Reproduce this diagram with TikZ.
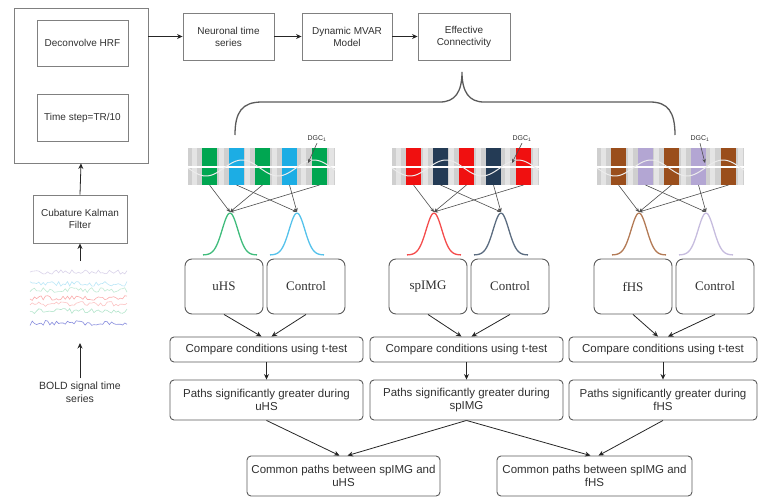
\documentclass[tikz,border=0pt]{standalone}
\usepackage{fontspec}
\setmainfont{Liberation Serif}
\setsansfont{Liberation Sans}
\usepackage{tikz}
\usetikzlibrary{positioning,arrows.meta,calc}
\definecolor{bGray}{HTML}{808080}
\definecolor{bText}{HTML}{303030}
\definecolor{sGray}{HTML}{CFCFCF}
\definecolor{cGreen}{HTML}{00A651}
\definecolor{cBlue}{HTML}{1CADE4}
\definecolor{cRed}{HTML}{F01010}
\definecolor{cNavy}{HTML}{243B55}
\definecolor{cBrown}{HTML}{9A4E1C}
\definecolor{cLav}{HTML}{B3A6D3}
% one effective connectivity panel: strip, densities, condition boxes
\newcommand{\ecpanel}[7]{%
 \fill[sGray] (#1,148) rectangle ++(147,37);
 \foreach \o in {4,31,57,84,113,141} \fill[white,opacity=.45] (#1+\o,148) rectangle ++(5,37);
 \foreach \o/\c [count=\i] in {14/#3,41/#4,67/#3,94/#4,124/#3} {
  \fill[\c] (#1+\o,148) rectangle ++(15,37);
  \coordinate (#2b\i) at (#1+\o+7.5,185);
 }
 \draw[white, line width=1.1pt] (#1,167) -- ++(147,0);
 \draw[white!85!gray, line width=1pt] plot[domain=0:147, samples=60, smooth] ({#1+\x},{168+8*sin(\x*5)});
 \coordinate (#2pa) at (#1+42,212);
 \coordinate (#2pb) at (#1+109,212);
 \draw[#3!75, line width=1.3pt] plot[domain=-27:27, samples=40, smooth] ({#1+42+\x},{255-42*exp(-((\x/11)^2))});
 \draw[#4!75, line width=1.3pt] plot[domain=-27:27, samples=40, smooth] ({#1+109+\x},{255-42*exp(-((\x/11)^2))});
 \foreach \s/\t in {b1/pa,b3/pa,b5/pa,b2/pb,b4/pb} \draw[thin arr] (#2\s) -- (#2\t);
 \node[font=\sffamily\fontsize{7}{8}\selectfont, text=bText, inner sep=1pt] (#2dgc) at (#1+#6,139) {DGC\textsubscript{1}};
 \coordinate (#2tip) at (#1+#7,163);
 \draw[thin arr] (#2dgc.south) -- (#2tip);
 \node[cond] (#2c) at (#1+36,286.5) {#5};
 \node[cond] (#2k) at (#1+118,286.5) {Control};
}
\begin{document}
\begin{tikzpicture}[x=1pt,y=-1pt,
 flow/.style={draw=bGray, line width=0.9pt, font=\sffamily\fontsize{10}{12}\selectfont, text=bText, align=center, inner sep=1pt},
 cond/.style={draw=bGray!70!black, line width=0.9pt, rounded corners=7pt, font=\fontsize{13}{15}\selectfont, text=bText, minimum width=78pt, minimum height=55pt},
 test/.style={draw=bGray!70!black, line width=0.9pt, rounded corners=4pt, font=\sffamily\fontsize{11.5}{13.5}\selectfont, text=bText, align=center, inner sep=1pt},
 arr/.style={-{Stealth[length=5.5pt,width=5pt]}, line width=0.8pt, draw=black!85},
 thin arr/.style={-{Stealth[length=4pt,width=3.5pt]}, line width=0.6pt, draw=black!70},
]
\useasboundingbox (0,0) rectangle (758,498);
% preprocessing
\node[flow, minimum width=134pt, minimum height=155pt] (outer) at (81,85.5) {};
\node[flow, minimum width=91pt, minimum height=46pt] (deconv) at (82.5,43) {Deconvolve HRF};
\node[flow, minimum width=91pt, minimum height=47pt] (tstep) at (82.5,118) {Time step=TR/10};
\node[flow, minimum width=94pt, minimum height=48pt] (kalman) at (80,219) {Cubature Kalman\\Filter};
\node[font=\sffamily\fontsize{10.5}{12.5}\selectfont, text=bText, align=center] (boldts) at (80,392) {BOLD signal time\\series};
\coordinate (sigtop) at (80,261);
\coordinate (sigbot) at (80,343);
\pgfmathsetseed{11}
\foreach \yy/\cc in {272/cLav, 284/cBlue!60, 290/cGreen!50, 298/cRed!70, 304/cRed!50, 311/cGreen!60, 323/cNavy!40!blue} \draw[\cc, opacity=.5, line width=0.6pt] plot[domain=30:127, samples=45] (\x,{\yy+2.5*rand});
\draw[arr] (boldts.north) -- (sigbot);
\draw[arr] (sigtop) -- (kalman.south);
\draw[arr] (kalman.north) -- (outer.south);
% model chain
\node[flow, minimum width=91pt, minimum height=47pt] (neur) at (228.5,36.5) {Neuronal time\\series};
\node[flow, minimum width=90pt, minimum height=47pt] (dyn) at (347,36.5) {Dynamic MVAR\\Model};
\node[flow, minimum width=92pt, minimum height=47pt] (effc) at (464,36.5) {Effective\\Connectivity};
\draw[arr] (outer.east |- neur.west) -- (neur.west);
\draw[arr] (neur) -- (dyn);
\draw[arr] (dyn) -- (effc);
\coordinate (brtip) at (462,72);
\draw[bGray!70!black, line width=1.3pt] (235,135) .. controls (235,112) and (242,102) .. (262,102) -- (440,102) .. controls (455,102) and (462,92) .. (brtip) .. controls (462,92) and (469,102) .. (484,102) -- (650,102) .. controls (668,102) and (675,112) .. (675,135);
% panels
\ecpanel{188}{pu}{cGreen}{cBlue}{uHS}{129}{120}
\ecpanel{392}{ps}{cRed}{cNavy}{spIMG}{130}{120}
\ecpanel{597}{pf}{cBrown}{cLav}{fHS}{103}{108}
% tests
\node[test, minimum width=193pt, minimum height=25pt] (cmpu) at (266.5,349.5) {Compare conditions using t-test};
\node[test, minimum width=193pt, minimum height=25pt] (cmps) at (466.5,349.5) {Compare conditions using t-test};
\node[test, minimum width=188pt, minimum height=25pt] (cmpf) at (663,349.5) {Compare conditions using t-test};
\node[test, minimum width=193pt, minimum height=40pt] (pthu) at (266.5,400) {Paths significantly greater during\\uHS};
\node[test, minimum width=193pt, minimum height=40pt] (pths) at (466.5,400) {Paths significantly greater during\\spIMG};
\node[test, minimum width=188pt, minimum height=40pt] (pthf) at (663,400) {Paths significantly greater during\\fHS};
\node[test, minimum width=193pt, minimum height=40pt] (comu) at (343.5,476) {Common paths between spIMG and\\uHS};
\node[test, minimum width=195pt, minimum height=40pt] (comf) at (594.5,476) {Common paths between spIMG and\\fHS};
\draw[arr] (puc.south) -- ([xshift=-5pt]cmpu.north);
\draw[arr] (puk.south) -- ([xshift=5pt]cmpu.north);
\draw[arr] (psc.south) -- ([xshift=-5pt]cmps.north);
\draw[arr] (psk.south) -- ([xshift=5pt]cmps.north);
\draw[arr] (pfc.south) -- ([xshift=-5pt]cmpf.north);
\draw[arr] (pfk.south) -- ([xshift=5pt]cmpf.north);
\draw[arr] (cmpu) -- (pthu);
\draw[arr] (cmps) -- (pths);
\draw[arr] (cmpf) -- (pthf);
\draw[arr] (pthu.south) -- ([xshift=-4pt]comu.north);
\draw[arr] (pths.south) -- ([xshift=4pt]comu.north);
\draw[arr] (pths.south) -- ([xshift=-4pt]comf.north);
\draw[arr] (pthf.south) -- ([xshift=4pt]comf.north);
\end{tikzpicture}
\end{document}
